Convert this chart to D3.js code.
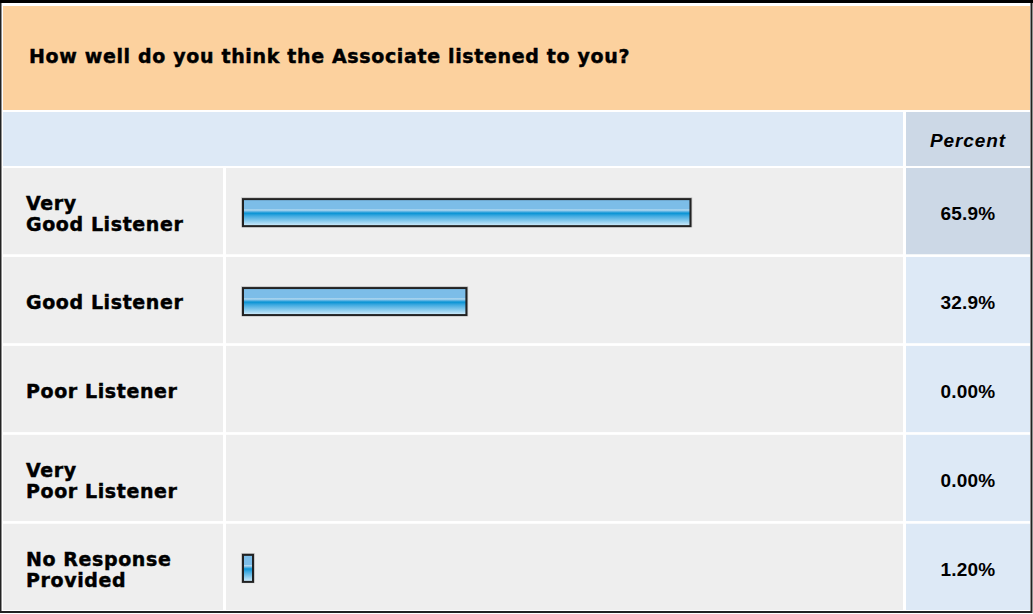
<!DOCTYPE html>
<html>
<head>
<meta charset="utf-8">
<script src="https://cdn.jsdelivr.net/npm/d3@7"></script>
<style>
  body { margin: 0; background: #fff; }
  text { font-family: "Liberation Sans", Arial, sans-serif; font-weight: bold; fill: #000; }
  text.heavy { font-family: "DejaVu Sans", sans-serif; stroke: #000; stroke-width: 0.45px; }
</style>
</head>
<body>
<svg id="chart" width="1033" height="614"></svg>
<script>
const title = "How well do you think the Associate listened to you?";
const categories = [
  ["Very", "Good Listener"],
  ["Good Listener"],
  ["Poor Listener"],
  ["Very", "Poor Listener"],
  ["No Response", "Provided"]
];
const percents = [65.9, 32.9, 0, 0, 1.2];
const percentLabels = ["65.9%", "32.9%", "0.00%", "0.00%", "1.20%"];

const svg = d3.select("#chart");
const width = +svg.attr("width");
const height = +svg.attr("height");

// gradient for the glossy bars
const grad = svg.append("defs")
  .append("linearGradient")
  .attr("id", "barGrad")
  .attr("x1", 0).attr("y1", 0).attr("x2", 0).attr("y2", 1);
[
  [0, "#7cbde8"], [0.36, "#7cbde8"], [0.4, "#b9dcf0"], [0.44, "#7bbfe8"],
  [0.52, "#0893d4"], [0.62, "#3ea9e0"], [1, "#d6eefb"]
].forEach(([o, c]) => grad.append("stop").attr("offset", o).attr("stop-color", c));

// outer frame
svg.append("rect").attr("width", width).attr("height", height).attr("fill", "#fff");
svg.append("rect")
  .attr("x", 0.5).attr("y", 1.5)
  .attr("width", 1031).attr("height", 610.5)
  .attr("fill", "none").attr("stroke", "#222").attr("stroke-width", 2);
svg.append("line").attr("x1", 0).attr("x2", 1033).attr("y1", 1.5).attr("y2", 1.5)
  .attr("stroke", "#000").attr("stroke-width", 3);

// title band
svg.append("rect").attr("x", 3).attr("y", 6).attr("width", 1027).attr("height", 104).attr("fill", "#fcd19e");
svg.append("text")
  .attr("class", "heavy")
  .attr("x", 29).attr("y", 63)
  .style("font-size", "19px").style("letter-spacing", "0.65px")
  .text(title);

// header row
const colLabel = [3, 223];
const colBar = [226, 903];
const colPct = [906, 1030];
svg.append("rect").attr("x", 3).attr("y", 112).attr("width", colBar[1] - 3).attr("height", 54).attr("fill", "#dde9f6");
svg.append("rect").attr("x", colPct[0]).attr("y", 112).attr("width", colPct[1] - colPct[0]).attr("height", 54).attr("fill", "#ccd8e6");
svg.append("text")
  .attr("x", (colPct[0] + colPct[1]) / 2).attr("y", 147)
  .attr("text-anchor", "middle")
  .style("font-size", "19px").style("font-style", "italic").style("letter-spacing", "0.9px")
  .text("Percent");

const y = d3.scaleBand()
  .domain(d3.range(categories.length))
  .range([168, 610])
  .paddingInner(0.03);

const x = d3.scaleLinear().domain([0, 100]).range([243, 922]);

const maxVal = d3.max(percents);
const rows = svg.append("g").selectAll("g")
  .data(categories.map((c, i) => ({ lines: c, v: percents[i], lab: percentLabels[i], i })))
  .join("g")
  .attr("transform", (d) => `translate(0,${y(d.i)})`);

const bh = y.bandwidth();

rows.append("rect").attr("x", colLabel[0]).attr("width", colLabel[1] - colLabel[0]).attr("height", bh).attr("fill", "#eeeeee");
rows.append("rect").attr("x", colBar[0]).attr("width", colBar[1] - colBar[0]).attr("height", bh).attr("fill", "#eeeeee");
rows.append("rect").attr("x", colPct[0]).attr("width", colPct[1] - colPct[0]).attr("height", bh)
  .attr("fill", (d) => (d.v === maxVal ? "#ccd8e6" : "#dde9f6"));

// category labels
rows.append("text")
  .attr("class", "heavy")
  .style("font-size", "19px").style("letter-spacing", "0.6px")
  .each(function (d) {
    const t = d3.select(this);
    const base = d.lines.length > 1 ? bh / 2 - 1 : bh / 2 + 9;
    d.lines.forEach((ln, k) => {
      t.append("tspan").attr("x", 26).attr("y", base + k * 21).text(ln);
    });
  });

// bars
const bars = rows.filter((d) => d.v > 0);
const barH = 27;
bars.append("rect")
  .attr("x", x(0) - 1).attr("y", bh / 2 - barH / 2 + 0.5)
  .attr("width", (d) => Math.max(x(d.v) - x(0), 10) + 2).attr("height", barH + 1.5)
  .attr("fill", "none").attr("stroke", "#bbb").attr("stroke-width", 1.5);
bars.append("rect")
  .attr("x", x(0)).attr("y", bh / 2 - barH / 2 + 1.5)
  .attr("width", (d) => Math.max(x(d.v) - x(0), 10)).attr("height", barH)
  .attr("fill", "url(#barGrad)").attr("stroke", "#222").attr("stroke-width", 2);

// percent values
rows.append("text")
  .attr("x", (colPct[0] + colPct[1]) / 2)
  .attr("y", bh / 2 + 9)
  .attr("text-anchor", "middle")
  .style("font-size", "19px").style("letter-spacing", "0.2px")
  .text((d) => d.lab);
</script>
</body>
</html>
